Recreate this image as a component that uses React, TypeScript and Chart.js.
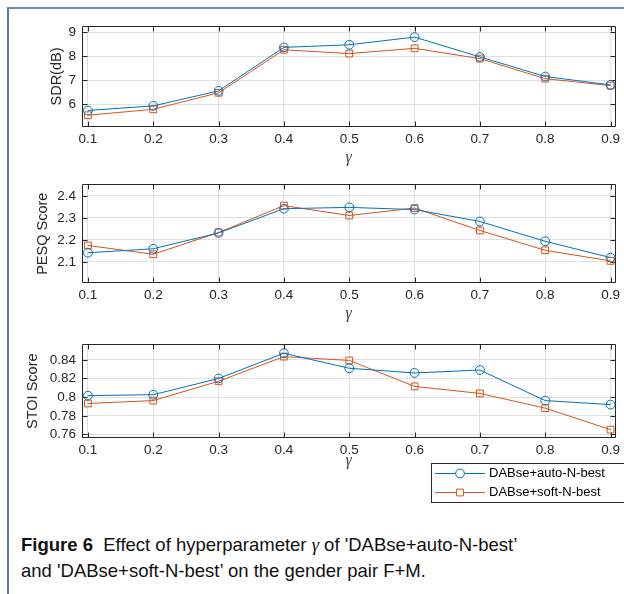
import React, { useEffect, useRef } from 'react';
import { Chart, registerables } from 'chart.js';

Chart.register(...registerables);

// ---------------- data ----------------
const gammaValues = [0.1, 0.2, 0.3, 0.4, 0.5, 0.6, 0.7, 0.8, 0.9];
const xTickLabels = ['0.1', '0.2', '0.3', '0.4', '0.5', '0.6', '0.7', '0.8', '0.9'];
const seriesLabels = ['DABse+auto-N-best', 'DABse+soft-N-best'];

const sdrAuto = [5.73, 5.92, 6.55, 8.37, 8.48, 8.8, 7.97, 7.15, 6.8];
const sdrSoft = [5.53, 5.78, 6.47, 8.27, 8.11, 8.33, 7.9, 7.06, 6.77];
const sdrTicks = [6, 7, 8, 9];
const sdrTickLabels = ['6', '7', '8', '9'];

const pesqAuto = [2.142, 2.16, 2.232, 2.342, 2.348, 2.338, 2.284, 2.194, 2.12];
const pesqSoft = [2.175, 2.135, 2.234, 2.356, 2.311, 2.345, 2.243, 2.153, 2.105];
const pesqTicks = [2.1, 2.2, 2.3, 2.4];
const pesqTickLabels = ['2.1', '2.2', '2.3', '2.4'];

const stoiAuto = [0.8016, 0.8026, 0.82, 0.847, 0.8309, 0.8259, 0.829, 0.7963, 0.792];
const stoiSoft = [0.7932, 0.7963, 0.817, 0.8434, 0.8393, 0.8115, 0.804, 0.7882, 0.7652];
const stoiTicks = [0.76, 0.78, 0.8, 0.82, 0.84];
const stoiTickLabels = ['0.76', '0.78', '0.8', '0.82', '0.84'];

// ---------------- style ----------------
const BLUE = '#0072BD';
const ORANGE = '#D95319';
const AXIS = '#262626';
const GRID = '#e0e0e0';
const SANS = "'Liberation Sans', Arial, sans-serif";

const boxPlugin = {
  id: 'matlabBox',
  beforeDatasetsDraw(chart: any) {
    const { ctx, chartArea } = chart;
    const { left, right, top, bottom } = chartArea;
    const x = chart.scales.x;
    const y = chart.scales.y;
    const L = Math.round(left) + 0.5;
    const R = Math.round(right) - 0.5;
    const T = Math.round(top) + 0.5;
    const B = Math.round(bottom) - 0.5;
    const tl = 5;
    ctx.save();
    ctx.strokeStyle = AXIS;
    ctx.lineWidth = 1;
    ctx.beginPath();
    ctx.rect(L, T, R - L, B - T);
    x.ticks.forEach((t: any) => {
      const px = Math.round(x.getPixelForValue(t.value)) + 0.5;
      ctx.moveTo(px, B);
      ctx.lineTo(px, B - tl);
      ctx.moveTo(px, T);
      ctx.lineTo(px, T + tl);
    });
    y.ticks.forEach((t: any) => {
      const py = Math.round(y.getPixelForValue(t.value)) + 0.5;
      ctx.moveTo(L, py);
      ctx.lineTo(L + tl, py);
      ctx.moveTo(R, py);
      ctx.lineTo(R - tl, py);
    });
    ctx.stroke();
    ctx.restore();
  },
};

const legendPlugin = {
  id: 'matlabLegend',
  afterDraw(chart: any) {
    const { ctx } = chart;
    const boxL = 431.5;
    const boxT = 133.5;
    const boxB = 172.5;
    const rows = [143.5, 162.5];
    ctx.save();
    ctx.fillStyle = '#ffffff';
    ctx.fillRect(boxL, boxT, 240, boxB - boxT);
    ctx.strokeStyle = AXIS;
    ctx.lineWidth = 1;
    ctx.strokeRect(boxL, boxT, 240, boxB - boxT);
    chart.data.datasets.forEach((ds: any, i: number) => {
      const yy = rows[i];
      ctx.strokeStyle = ds.borderColor;
      ctx.lineWidth = 1;
      ctx.beginPath();
      ctx.moveTo(435, yy);
      ctx.lineTo(485, yy);
      ctx.stroke();
      ctx.fillStyle = '#ffffff';
      ctx.beginPath();
      if (ds.pointStyle === 'rect') {
        const s = ds.pointRadius * Math.SQRT1_2;
        ctx.rect(460 - s, yy - s, 2 * s, 2 * s);
      } else {
        ctx.arc(460, yy, ds.pointRadius, 0, Math.PI * 2);
      }
      ctx.fill();
      ctx.stroke();
      ctx.fillStyle = '#000000';
      ctx.font = `13px ${SANS}`;
      ctx.textAlign = 'left';
      ctx.textBaseline = 'middle';
      ctx.fillText(ds.label, 489, yy);
    });
    ctx.restore();
  },
};

type SubProps = {
  top: number;
  height: number;
  padTop: number;
  padLeft: number;
  padBottom: number;
  yWidth: number;
  xHeight: number;
  yMin: number;
  yMax: number;
  yTicks: number[];
  yTickLabels: string[];
  yTitle: string;
  auto: number[];
  soft: number[];
  legend?: boolean;
};

function SubPlot(p: SubProps) {
  const ref = useRef<HTMLCanvasElement>(null);
  useEffect(() => {
    if (!ref.current) return;
    const chart = new Chart(ref.current, {
      type: 'line',
      data: {
        datasets: [
          {
            label: seriesLabels[0],
            data: gammaValues.map((g, i) => ({ x: g, y: p.auto[i] })),
            borderColor: BLUE,
            backgroundColor: 'rgba(0,0,0,0)',
            borderWidth: 1,
            pointStyle: 'circle',
            pointRadius: 4.4,
            pointBorderWidth: 1,
            pointBorderColor: BLUE,
            pointBackgroundColor: 'rgba(0,0,0,0)',
            clip: false,
          } as any,
          {
            label: seriesLabels[1],
            data: gammaValues.map((g, i) => ({ x: g, y: p.soft[i] })),
            borderColor: ORANGE,
            backgroundColor: 'rgba(0,0,0,0)',
            borderWidth: 1,
            pointStyle: 'rect',
            pointRadius: 4.8,
            pointBorderWidth: 1,
            pointBorderColor: ORANGE,
            pointBackgroundColor: 'rgba(0,0,0,0)',
            clip: false,
          } as any,
        ],
      },
      options: {
        animation: false,
        responsive: false,
        devicePixelRatio: 1,
        layout: {
          padding: { top: p.padTop, left: p.padLeft, right: 6, bottom: p.padBottom },
        },
        plugins: {
          legend: { display: false },
          tooltip: { enabled: false },
        },
        scales: {
          x: {
            type: 'linear',
            min: 0.0909,
            max: 0.9076,
            afterBuildTicks: (scale: any) => {
              scale.ticks = gammaValues.map((v) => ({ value: v }));
            },
            afterFit: (scale: any) => {
              scale.height = p.xHeight;
            },
            grid: { color: GRID, lineWidth: 1, drawTicks: false },
            border: { display: false },
            ticks: {
              padding: 4,
              color: AXIS,
              font: { family: SANS, size: 13.5 },
              maxRotation: 0,
              autoSkip: false,
              callback: (_v: any, i: number) => xTickLabels[i],
            },
            title: {
              display: true,
              text: 'γ',
              color: '#404040',
              font: { family: "'Liberation Serif', 'Times New Roman', serif", size: 16, style: 'italic' },
              padding: 0,
            },
          },
          y: {
            type: 'linear',
            min: p.yMin,
            max: p.yMax,
            afterBuildTicks: (scale: any) => {
              scale.ticks = p.yTicks.map((v) => ({ value: v }));
            },
            afterFit: (scale: any) => {
              scale.width = p.yWidth;
            },
            grid: { color: GRID, lineWidth: 1, drawTicks: false },
            border: { display: false },
            ticks: {
              padding: 6,
              color: AXIS,
              font: { family: SANS, size: 13.5 },
              autoSkip: false,
              callback: (_v: any, i: number) => p.yTickLabels[i],
            },
            title: {
              display: true,
              text: p.yTitle,
              color: AXIS,
              font: { family: SANS, size: 14.5 },
              padding: 0,
            },
          },
        },
      } as any,
      plugins: p.legend ? [boxPlugin, legendPlugin] : [boxPlugin],
    });
    return () => chart.destroy();
  }, []);
  return (
    <canvas
      ref={ref}
      width={624}
      height={p.height}
      style={{ position: 'absolute', left: 0, top: p.top, width: 624, height: p.height }}
    />
  );
}

export default function App() {
  return (
    <div
      style={{
        position: 'fixed',
        left: 0,
        top: 0,
        width: 624,
        height: 594,
        background: '#ffffff',
        overflow: 'hidden',
      }}
    >
      <div
        style={{
          position: 'absolute',
          left: 7,
          top: 7,
          width: 640,
          height: 620,
          borderLeft: '2px solid #5b78a2',
          borderTop: '2px solid #6f8ab0',
        }}
      />
      <SubPlot
        top={0}
        height={170}
        padTop={26}
        padLeft={48}
        yWidth={34}
        xHeight={40}
        padBottom={3}
        yMin={5.038}
        yMax={9.264}
        yTicks={sdrTicks}
        yTickLabels={sdrTickLabels}
        yTitle="SDR(dB)"
        auto={sdrAuto}
        soft={sdrSoft}
      />
      <SubPlot
        top={170}
        height={160}
        padTop={12.7}
        padLeft={34}
        yWidth={48}
        xHeight={40}
        padBottom={6.7}
        yMin={2.0032}
        yMax={2.4537}
        yTicks={pesqTicks}
        yTickLabels={pesqTickLabels}
        yTitle="PESQ Score"
        auto={pesqAuto}
        soft={pesqSoft}
      />
      <SubPlot
        top={330}
        height={180}
        padTop={8.7}
        padLeft={24}
        yWidth={58}
        xHeight={32}
        padBottom={39.7}
        yMin={0.7559}
        yMax={0.8568}
        yTicks={stoiTicks}
        yTickLabels={stoiTickLabels}
        yTitle="STOI Score"
        auto={stoiAuto}
        soft={stoiSoft}
        legend
      />
      <div
        style={{
          position: 'absolute',
          left: 21,
          top: 532,
          width: 610,
          fontFamily: SANS,
          fontSize: 18.5,
          lineHeight: '25px',
          color: '#111',
          whiteSpace: 'nowrap',
        }}
      >
        <div>
          <b>Figure 6</b>&nbsp; Effect of hyperparameter{' '}
          <i style={{ fontFamily: "'Liberation Serif', serif" }}>γ</i> of 'DABse+auto-N-best’
        </div>
        <div>and 'DABse+soft-N-best’ on the gender pair F+M.</div>
      </div>
    </div>
  );
}
